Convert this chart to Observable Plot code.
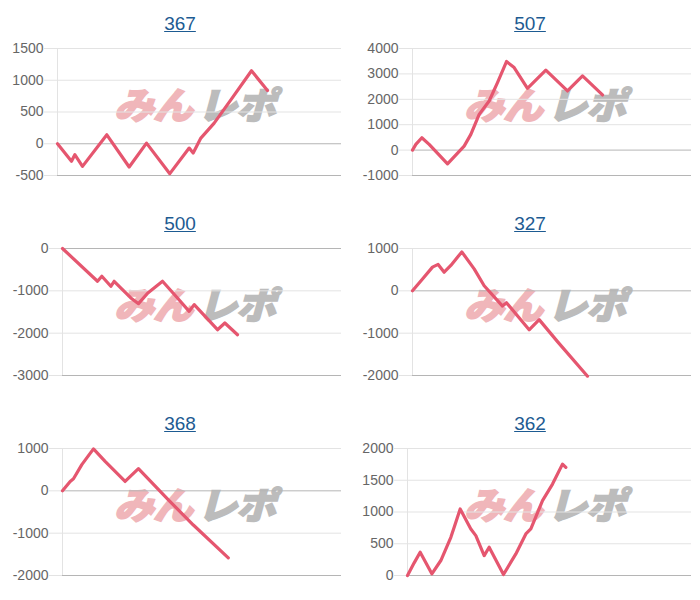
<!DOCTYPE html>
<html>
<head>
<meta charset="utf-8">
<script src="https://cdn.jsdelivr.net/npm/d3@7"></script>
<script src="https://cdn.jsdelivr.net/npm/@observablehq/plot@0.6"></script>
<style>
  body { margin: 0; background: #fff; font-family: "Liberation Sans", Arial, sans-serif; }
  #grid { display: grid; grid-template-columns: 350px 350px; grid-template-rows: 200px 200px 200px; width: 700px; }
  .panel { position: relative; width: 350px; height: 200px; overflow: hidden; }
  .title { position: absolute; left: 0; top: 14px; width: 360px; text-align: center; font-size: 19px; line-height: 19px; }
  .title a { color: #1d5b92; text-decoration: underline; }
  .wm { position: absolute; left: 114px; top: 85px; font-family: "Noto Sans CJK JP", sans-serif; font-weight: 900; font-style: italic; font-size: 37px; line-height: 37px; white-space: nowrap; letter-spacing: -1px; transform: scaleX(1.08); transform-origin: left top; }
  .wm .a { color: #f0b6ba; -webkit-text-stroke: 1.5px #f0b6ba; }
  .wm .b { color: #bcbcbc; -webkit-text-stroke: 1.5px #bcbcbc; margin-left: 5px; }
  .chart { position: absolute; left: 0; top: 0; }
</style>
</head>
<body>
<div id="grid"></div>
<script>
// Titles of the six machines
const titles = ["367", "507", "500", "327", "368", "362"];

// Game counts (x) and cumulative difference (y)
const games1 = [0, 394, 488, 704, 1390, 2019, 2507, 3164, 3709, 3822, 4038, 4413, 4883, 5465, 5915];
const diff1  = [0, -277, -173, -356, 141, -366, 10, -471, -68, -146, 89, 324, 690, 1150, 837];

const games2 = [0, 96, 268, 478, 1004, 1481, 1673, 1912, 2198, 2437, 2695, 2915, 3297, 3823, 4444, 4875, 5448];
const diff2  = [0, 224, 487, 224, -540, 158, 618, 1408, 1934, 2658, 3487, 3250, 2434, 3145, 2329, 2921, 2171];

const games3 = [0, 1004, 1128, 1386, 1481, 1959, 2179, 2447, 2868, 3297, 3632, 3776, 4444, 4655, 5018];
const diff3  = [0, -774, -655, -892, -774, -1168, -1303, -1050, -774, -1168, -1484, -1326, -1918, -1761, -2037];

const games4 = [0, 287, 573, 735, 908, 1099, 1414, 1768, 2055, 2581, 2695, 3345, 3632, 4158, 5018];
const diff4  = [0, 280, 560, 624, 440, 600, 920, 520, 120, -360, -280, -920, -680, -1200, -2016];

const games5 = [0, 220, 315, 554, 888, 1222, 1795, 2177, 3036, 3752, 4754];
const diff5  = [0, 222, 285, 618, 990, 697, 222, 523, -214, -808, -1584];

const games6 = [0, 188, 357, 686, 939, 1221, 1315, 1484, 1784, 1925, 2160, 2300, 2704, 3052, 3333, 3474, 3803, 4085, 4366, 4460];
const diff6  = [0, 199, 367, 26, 236, 602, 759, 1047, 733, 628, 314, 445, 16, 340, 654, 733, 1178, 1440, 1754, 1702];

// Y tick labels per chart
const ticks1 = [-500, 0, 500, 1000, 1500];
const ticks2 = [-1000, 0, 1000, 2000, 3000, 4000];
const ticks3 = [-3000, -2000, -1000, 0];
const ticks4 = [-2000, -1000, 0, 1000];
const ticks5 = [-2000, -1000, 0, 1000];
const ticks6 = [0, 500, 1000, 1500, 2000];

const gameMax = 8000;

const charts = [
  [games1, diff1, ticks1], [games2, diff2, ticks2], [games3, diff3, ticks3],
  [games4, diff4, ticks4], [games5, diff5, ticks5], [games6, diff6, ticks6]
];

const grid = document.getElementById("grid");
charts.forEach(([gx, gy, ticks], i) => {
  const data = gx.map((g, k) => ({game: g, diff: gy[k]}));
  const lo = d3.min(ticks), hi = d3.max(ticks);
  const longest = d3.max(ticks, t => String(t).length);
  const marginLeft = longest > 4 ? 62 : 57;

  const panel = document.createElement("div");
  panel.className = "panel";

  const wm = document.createElement("div");
  wm.className = "wm";
  wm.innerHTML = '<span class="a">みん</span><span class="b">レポ</span>';
  panel.appendChild(wm);

  const chart = Plot.plot({
    width: 345,
    height: 200,
    marginTop: 48,
    marginBottom: 25,
    marginLeft,
    marginRight: 4,
    style: {background: "transparent", fontFamily: "Liberation Sans, Arial, sans-serif", fontSize: "14px", color: "#666"},
    x: {domain: [0, gameMax], axis: null},
    y: {domain: [lo, hi], axis: null},
    marks: [
      Plot.ruleY(ticks.filter(t => t !== 0 && t !== lo), {stroke: "#e3e3e3", strokeWidth: 1}),
      Plot.ruleX([0], {stroke: "#e3e3e3"}),
      Plot.ruleY([0, lo], {stroke: "#b5b5b5", strokeWidth: 1}),
      Plot.axisY({ticks, label: null, tickSize: 13, tickPadding: 1, tickFormat: d => String(d), stroke: "#e3e3e3", fill: "#666", fontSize: 14}),
      Plot.line(data, {x: "game", y: "diff", stroke: "#e5566f", strokeWidth: 3.2, strokeLinejoin: "round"})
    ]
  });
  chart.classList.add("chart");
  panel.appendChild(chart);

  const t = document.createElement("div");
  t.className = "title";
  t.innerHTML = `<a href="#">${titles[i]}</a>`;
  panel.appendChild(t);

  grid.appendChild(panel);
});
</script>
</body>
</html>
